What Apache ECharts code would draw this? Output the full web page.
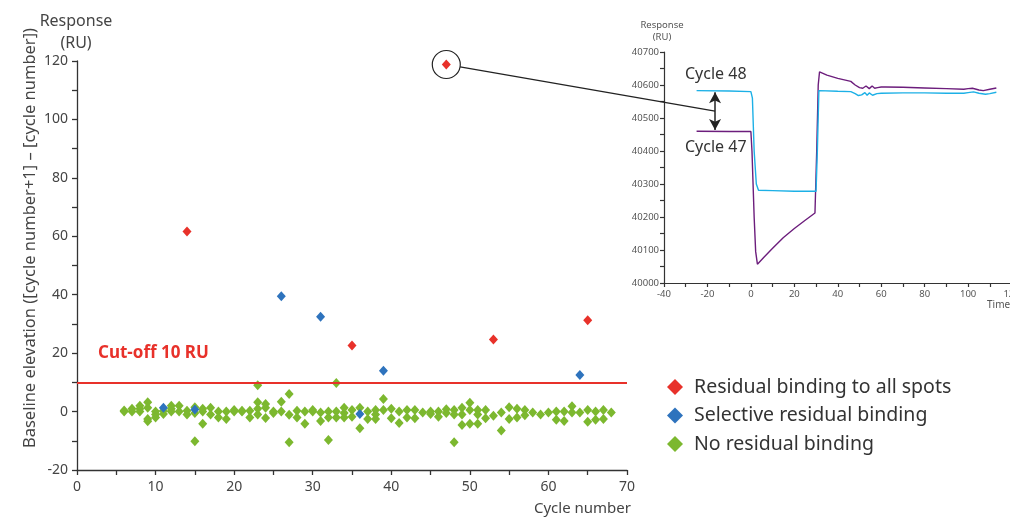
<!DOCTYPE html>
<html><head><meta charset="utf-8">
<script src="https://cdn.jsdelivr.net/npm/echarts@6/dist/echarts.min.js"></script>
<style>html,body{margin:0;padding:0;background:#fff}#c{width:1010px;height:520px}</style>
</head><body><div id="c"></div>
<script>
const FONT = "'Noto Sans', sans-serif";

// ---- main scatter data: [cycle number, baseline elevation (RU)] ----
const residualAll = [[14,61.6],[35,22.6],[47,118.8],[53,24.7],[65,31.3]];
const selective = [[11,1.3],[15,0.7],[26,39.5],[31,32.5],[36,-0.8],[39,14],[64,12.5]];
const noResidual = [
  [6,0],[6,0.4],[7,0],[7,1],[8,0],[8,1],[8,2],[9,3.2],[9,1.3],[9,-2.5],[9,-3.3],
  [10,0],[10,-1],[10,-2],[11,-0.8],[11,0.3],[12,2],[12,1],[12,0],[13,2],[13,0],
  [14,0.3],[14,-1],[15,1.5],[15,-0.5],[15,-10.2],[16,1],[16,0],[16,-4.2],[17,1.3],[17,-1],
  [18,0],[18,-2],[19,0],[19,-2.5],[20,0],[20,0.5],[21,0],[21,0.3],[22,0.3],[22,-2],
  [23,9],[23,3.2],[23,1],[23,-1],[24,2.6],[24,1.3],[24,-2.2],[25,0],[25,-0.5],[26,3.4],[26,0],
  [27,6],[27,-1.1],[27,-10.5],[28,0.3],[28,-2],[29,0],[29,-4.2],[30,0.5],[30,0],
  [31,-0.3],[31,-3.2],[32,0],[32,-2],[32,-9.7],[33,9.8],[33,0],[33,-2],[34,1.3],[34,-0.5],[34,-2],
  [35,0.5],[35,-1.8],[36,1.3],[36,-5.7],[37,0],[37,-2.5],[38,0.5],[38,-1],[38,-2.5],[39,4.3],[39,0.5],
  [40,1],[40,-2.3],[41,0],[41,-3.9],[42,0.5],[42,-2],[43,0.5],[43,-2.3],[44,-0.3],[45,-0.8],[45,0],
  [46,0],[46,-1.8],[47,0.8],[47,-0.5],[48,0.5],[48,-1],[48,-10.5],[49,1.3],[49,-1],[49,-4.6],
  [50,3],[50,0.5],[50,-4.2],[51,0.5],[51,-1],[51,-4.2],[52,0.5],[52,-2.3],[53,-1.4],[54,-0.3],[54,-6.5],
  [55,1.5],[55,-2.5],[56,1],[56,-2],[57,0.5],[57,-1.3],[58,-0.3],[59,-1],[60,-0.3],[61,0],[61,-2.8],
  [62,0],[62,-3.2],[63,1.8],[63,-0.3],[64,-0.3],[65,0.5],[65,-3.5],[66,0],[66,-2.8],[67,0.5],[67,-2.5],[68,-0.3]
];
const cutoff = 10;
const highlighted = [47, 118.8];

// ---- inset sensorgram data ----
const cycle48Time = [-25,-10,0,0.7,1.5,2.5,3.5,10,20,30,30.6,31.3,40,46,48,49.5,51,52.5,53.5,54.5,56,58,60,70,80,90,98,100,102.5,105,108,110,113];
const cycle48Resp = [40583,40582,40580,40560,40400,40300,40281,40280,40278,40278,40400,40583,40581,40580,40574,40568,40570,40577,40569,40576,40569,40574,40575,40576,40576,40575,40575,40577,40579,40575,40572,40574,40578];
const cycle47Time = [-25,-10,0,0.5,1.5,2.2,3,6,10,15,20,25,29.5,30.3,31,31.6,35,40,46,48,50,51.5,53,54.5,55.8,57,58.3,60,62,70,80,90,98,100,102,105,107,110,113];
const cycle47Resp = [40460,40459,40459,40400,40200,40095,40057,40078,40105,40138,40165,40190,40212,40400,40600,40640,40630,40620,40611,40600,40592,40590,40597,40589,40597,40590,40592,40594,40594,40593,40591,40589,40587,40589,40590,40585,40583,40587,40591];
const arrowTime = -16.5;
const arrowTop = 40578, arrowBottom = 40464, arrowMid = 40521;

const RED = '#e8312a', BLUE = '#2e73bd', GREEN = '#7cb82f';
const CYAN = '#1cb0e6', PURPLE = '#6c1d7c';
const zip = (a, b) => a.map((v, i) => [v, b[i]]);

const chart = echarts.init(document.getElementById('c'), null, {renderer: 'canvas'});
const axisCommon = {
  axisLine: {show: true, onZero: false, lineStyle: {color: '#333', width: 1.3}},
  axisTick: {show: true, length: 5, lineStyle: {color: '#333', width: 1.3}},
  minorTick: {show: true, splitNumber: 2, length: 5, lineStyle: {color: '#333', width: 1.3}},
  splitLine: {show: false}
};
const insetAxis = {
  axisTick: {show: true, length: 4, lineStyle: {color: '#333', width: 1.2}},
  minorTick: {show: true, splitNumber: 2, length: 4, lineStyle: {color: '#333', width: 1.2}},
  axisLine: {show: true, onZero: false, lineStyle: {color: '#333', width: 1.2}},
  splitLine: {show: false}
};
const option = {
  animation: false,
  textStyle: {fontFamily: FONT},
  grid: [
    {left: 77, top: 61, width: 550, height: 409, outerBoundsMode: 'none', containLabel: false},
    {left: 664, top: 52, width: 391, height: 231, outerBoundsMode: 'none', containLabel: false}
  ],
  xAxis: [
    Object.assign({}, axisCommon, {gridIndex: 0, type: 'value', min: 0, max: 70, interval: 10,
      axisLabel: {color: '#444', fontSize: 14, margin: 10, fontFamily: FONT},
      name: 'Cycle number', nameLocation: 'end', nameGap: 4,
      nameTextStyle: {color: '#444', fontSize: 15, align: 'right', verticalAlign: 'top', padding: [31, 0, 0, 0], fontFamily: FONT}}),
    Object.assign({}, insetAxis, {gridIndex: 1, type: 'value', min: -40, max: 140, interval: 20,
      axisLabel: {color: '#555', fontSize: 9.5, margin: 6, fontFamily: FONT, formatter: v => String(v)}})
  ],
  yAxis: [
    Object.assign({}, axisCommon, {gridIndex: 0, type: 'value', min: -20, max: 120, interval: 20,
      axisLabel: {color: '#444', fontSize: 14, margin: 9, fontFamily: FONT}}),
    Object.assign({}, insetAxis, {gridIndex: 1, type: 'value', min: 40000, max: 40700, interval: 100,
      axisLabel: {color: '#555', fontSize: 9.5, margin: 5, fontFamily: FONT, formatter: v => String(v)}})
  ],
  legend: {
    orient: 'vertical', left: 667, top: 377, padding: 0, itemGap: 8.5,
    itemWidth: 16, itemHeight: 16, icon: 'diamond',
    data: ['Residual binding to all spots', 'Selective residual binding', 'No residual binding'],
    textStyle: {color: '#333', fontSize: 19.5, lineHeight: 20, fontFamily: FONT, padding: [0, 0, 0, 6]}
  },
  series: [
    {type: 'line', xAxisIndex: 0, yAxisIndex: 0, data: [], silent: true, z: 1,
      markLine: {silent: true, symbol: 'none', label: {show: false},
        lineStyle: {color: RED, width: 2, type: 'solid'}, data: [{yAxis: cutoff}]}},
    {name: 'No residual binding', type: 'scatter', xAxisIndex: 0, yAxisIndex: 0, z: 3,
      symbol: 'diamond', symbolSize: [9, 10], itemStyle: {color: GREEN, opacity: 1}, data: noResidual},
    {name: 'Selective residual binding', type: 'scatter', xAxisIndex: 0, yAxisIndex: 0, z: 4,
      symbol: 'diamond', symbolSize: [9, 10], itemStyle: {color: BLUE, opacity: 1}, data: selective},
    {name: 'Residual binding to all spots', type: 'scatter', xAxisIndex: 0, yAxisIndex: 0, z: 5,
      symbol: 'diamond', symbolSize: [9, 10], itemStyle: {color: RED, opacity: 1}, data: residualAll},
    {name: 'Cycle 48', type: 'line', xAxisIndex: 1, yAxisIndex: 1, showSymbol: false, z: 3,
      lineStyle: {color: CYAN, width: 1.4}, itemStyle: {color: CYAN}, data: zip(cycle48Time, cycle48Resp),
      markLine: {silent: true, symbol: ['arrow', 'arrow'], symbolSize: [9, 11], label: {show: false},
        lineStyle: {color: '#222', width: 1.5, type: 'solid'},
        data: [[{coord: [arrowTime, arrowTop]}, {coord: [arrowTime, arrowBottom]}]]}},
    {name: 'Cycle 47', type: 'line', xAxisIndex: 1, yAxisIndex: 1, showSymbol: false, z: 2,
      lineStyle: {color: PURPLE, width: 1.4}, itemStyle: {color: PURPLE}, data: zip(cycle47Time, cycle47Resp)}
  ]
};
chart.setOption(option);

const p = chart.convertToPixel({xAxisIndex: 0, yAxisIndex: 0}, highlighted);
const q = chart.convertToPixel({xAxisIndex: 1, yAxisIndex: 1}, [arrowTime, arrowMid]);
const R = 14;
const dx = q[0] - p[0], dy = q[1] - p[1], L = Math.hypot(dx, dy);
chart.setOption({
  graphic: [
    {type: 'circle', shape: {cx: p[0], cy: p[1], r: R}, style: {fill: 'none', stroke: '#222', lineWidth: 1.2}, z: 10},
    {type: 'line', shape: {x1: p[0] + dx / L * R, y1: p[1] + dy / L * R, x2: q[0], y2: q[1]}, style: {stroke: '#222', lineWidth: 1.2}, z: 10},
    {type: 'text', x: 76, y: 21, style: {text: 'Response', font: '16px ' + FONT, fill: '#444', align: 'center', verticalAlign: 'middle'}},
    {type: 'text', x: 76, y: 43, style: {text: '(RU)', font: '16px ' + FONT, fill: '#444', align: 'center', verticalAlign: 'middle'}},
    {type: 'text', x: 30, y: 238, rotation: Math.PI / 2,
      style: {text: 'Baseline elevation ([cycle number+1] \u2013 [cycle number])', font: '16.5px ' + FONT, fill: '#444', align: 'center', verticalAlign: 'middle'}},
    {type: 'text', x: 98, y: 353, style: {text: 'Cut-off 10 RU', font: 'bold 17px ' + FONT, fill: RED, align: 'left', verticalAlign: 'middle'}},
    {type: 'text', x: 662, y: 25, style: {text: 'Response', font: '9.5px ' + FONT, fill: '#555', align: 'center', verticalAlign: 'middle'}},
    {type: 'text', x: 662, y: 37, style: {text: '(RU)', font: '9.5px ' + FONT, fill: '#555', align: 'center', verticalAlign: 'middle'}},
    {type: 'text', x: 987, y: 305, style: {text: 'Time (s)', font: '10px ' + FONT, fill: '#555', align: 'left', verticalAlign: 'middle'}},
    {type: 'text', x: 685, y: 74, style: {text: 'Cycle 48', font: '16px ' + FONT, fill: '#333', align: 'left', verticalAlign: 'middle'}},
    {type: 'text', x: 685, y: 147, style: {text: 'Cycle 47', font: '16px ' + FONT, fill: '#333', align: 'left', verticalAlign: 'middle'}}
  ]
});
</script></body></html>
